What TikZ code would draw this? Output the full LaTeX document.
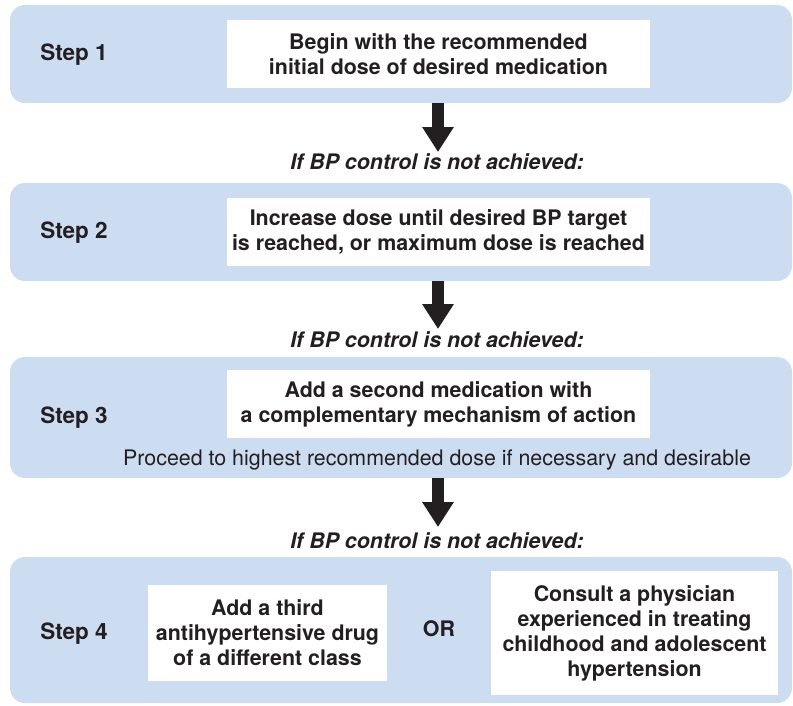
\documentclass[tikz,border=0pt]{standalone}
\usepackage{fontspec}
\setmainfont{TeX Gyre Heros}
\usetikzlibrary{arrows.meta}
\definecolor{bandblue}{RGB}{204,220,241}
\definecolor{ink}{RGB}{35,31,32}
\begin{document}
\begin{tikzpicture}[x=1pt,y=-1pt, text=ink,
  every node/.style={font=\fontsize{21.4}{25}\selectfont},
  band/.style={fill=bandblue, rounded corners=15pt, minimum width=782pt, inner sep=0pt},
  whitebox/.style={fill=white, inner sep=0pt, align=center, font=\fontsize{21.4}{25}\selectfont\bfseries},
  steplabel/.style={font=\fontsize{22.5}{25}\selectfont\bfseries},
  orlabel/.style={font=\fontsize{21.4}{25}\selectfont\bfseries},
  cond/.style={font=\fontsize{21.4}{25}\selectfont\bfseries\itshape},
  plain/.style={font=\fontsize{21.4}{25}\selectfont},
  bigarrow/.style={draw=ink, line width=12pt, -{Triangle[width=30pt,length=25pt]}}]
\useasboundingbox (0,0) rectangle (793,705);

% bands
\node[band, minimum height=98pt]  (band1) at (401,54) {};
\node[band, minimum height=98pt]  (band2) at (401,232) {};
\node[band, minimum height=121pt] (band3) at (401,417.5) {};
\node[band, minimum height=146pt] (band4) at (401,630) {};

% step labels
\node[steplabel] (s1) at (74,55) {Step 1};
\node[steplabel] (s2) at (74,233) {Step 2};
\node[steplabel] (s3) at (74,418) {Step 3};
\node[steplabel] (s4) at (74,634) {Step 4};

% white boxes
\node[whitebox, minimum width=423pt, minimum height=68pt] (b1) at (438.5,54)
  {Begin with the recommended\\initial dose of desired medication};
\node[whitebox, minimum width=423pt, minimum height=68pt] (b2) at (438.5,232)
  {Increase dose until desired BP target\\is reached, or maximum dose is reached};
\node[whitebox, minimum width=423pt, minimum height=68pt] (b3) at (438.5,404)
  {Add a second medication with\\a complementary mechanism of action};
\node[plain] (p3) at (437,460) {Proceed to highest recommended dose if necessary and desirable};
\node[whitebox, minimum width=239pt, minimum height=96pt] (b4a) at (267.5,633)
  {Add a third\\antihypertensive drug\\of a different class};
\node[orlabel] (or) at (439,629) {OR};
\node[whitebox, minimum width=287pt, minimum height=124pt] (b4b) at (634.5,633)
  {Consult a physician\\experienced in treating\\childhood and adolescent\\hypertension};

% conditions
\node[cond] (c1) at (437,162) {If BP control is not achieved:};
\node[cond] (c2) at (437,340) {If BP control is not achieved:};
\node[cond] (c3) at (437,541) {If BP control is not achieved:};

% arrows
\coordinate (t1) at (438,152);
\coordinate (t2) at (438,329);
\coordinate (t3) at (438,527);
\draw[bigarrow] (band1.south -| t1) -- (t1);
\draw[bigarrow] (band2.south -| t2) -- (t2);
\draw[bigarrow] (band3.south -| t3) -- (t3);
\end{tikzpicture}
\end{document}
